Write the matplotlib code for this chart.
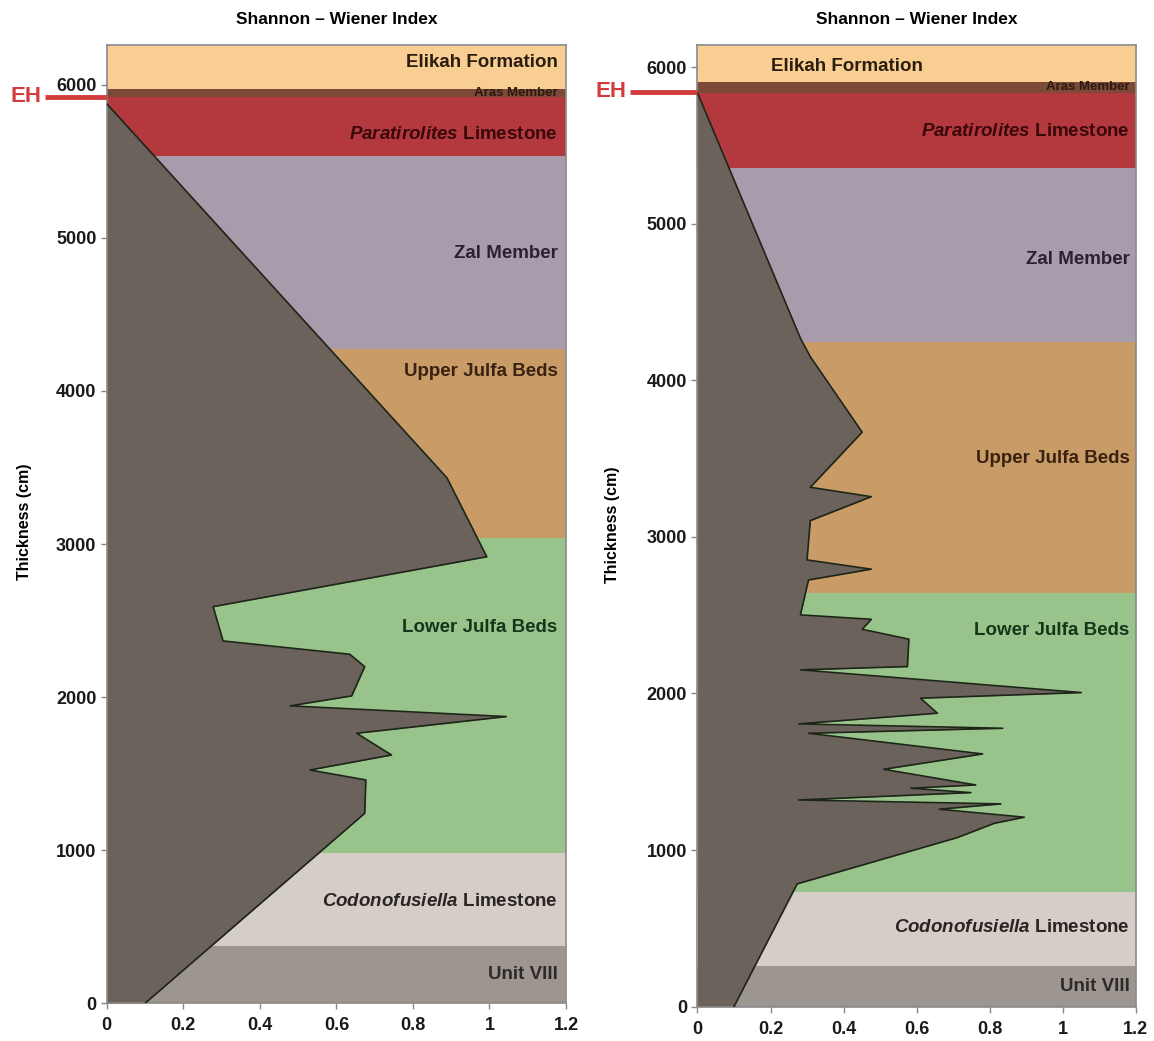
import numpy as np
import matplotlib.pyplot as plt
from matplotlib import transforms

plt.rcParams['font.family'] = ['Liberation Sans', 'DejaVu Sans']
plt.rcParams['font.weight'] = 'bold'
plt.rcParams['mathtext.fontset'] = 'custom'
plt.rcParams['mathtext.it'] = 'Liberation Sans:italic:bold'
plt.rcParams['mathtext.rm'] = 'Liberation Sans:bold'

# stratigraphic units, bottom to top
units = ["Unit VIII", r"$\mathit{Codonofusiella}$ Limestone", "Lower Julfa Beds",
         "Upper Julfa Beds", "Zal Member", r"$\mathit{Paratirolites}$ Limestone",
         "Aras Member", "Elikah Formation"]
unit_colors = ["#9d9690", "#d4cdc8", "#98c48b", "#c99b67", "#a89bab", "#b3393f",
               "#7d4a38", "#f8ce92"]
text_colors = ["#2e2a28", "#2a2522", "#17351a", "#3a2210", "#2a2230", "#3a0808",
               "#2a1a10", "#2b1e10"]

# unit boundaries (cm)
left_bounds = [0, 375, 980, 3041, 4275, 5532, 5922, 5972, 6260]
right_bounds = [0, 260, 734, 2644, 4247, 5355, 5836, 5904, 6142]

# Shannon - Wiener index vs thickness
left_h = [0.0, 0.889, 0.993, 0.278, 0.304, 0.635, 0.674, 0.640, 0.479, 1.044,
          0.653, 0.744, 0.531, 0.677, 0.674, 0.10]
left_t = [5876, 3432, 2917, 2591, 2367, 2280, 2199, 2008, 1943, 1873,
          1764, 1622, 1524, 1459, 1241, 0]

right_h = [0.0, 0.282, 0.309, 0.451, 0.309, 0.476, 0.309, 0.300, 0.476, 0.304,
           0.282, 0.476, 0.451, 0.579, 0.575, 0.282, 1.051, 0.611, 0.657, 0.277,
           0.836, 0.304, 0.781, 0.510, 0.762, 0.584, 0.749, 0.277, 0.831, 0.662,
           0.895, 0.813, 0.712, 0.273, 0.10]
right_t = [5836, 4269, 4151, 3669, 3317, 3257, 3104, 2853, 2794, 2725,
           2502, 2474, 2410, 2347, 2172, 2151, 2006, 1970, 1874, 1806,
           1778, 1746, 1614, 1516, 1416, 1395, 1367, 1320, 1295, 1261,
           1210, 1171, 1080, 784, 0]

eh_left = 5922
eh_right = 5844

# label placement (x, y, ha) for each unit
left_labels = [(1.178, 185, 'right'), (1.178, 662, 'right'), (1.178, 2452, 'right'),
               (1.178, 4125, 'right'), (1.178, 4895, 'right'), (1.178, 5674, 'right'),
               (1.178, 5945, 'right'), (1.178, 6144, 'right')]
right_labels = [(1.183, 126, 'right'), (1.183, 503, 'right'), (1.183, 2400, 'right'),
                (1.183, 3498, 'right'), (1.183, 4775, 'right'), (1.183, 5587, 'right'),
                (1.183, 5873, 'right'), (0.2, 6002, 'left')]


def draw_panel(ax, bounds, h, t, labels, eh, eh_x):
    for i in range(len(units)):
        ax.axhspan(bounds[i], bounds[i + 1], color=unit_colors[i], lw=0, zorder=0)
    ax.fill_betweenx(t, 0, h, color="#6b625c", lw=0, zorder=2)
    ax.plot(h, t, color="#1d2518", lw=1.2, zorder=3)
    for i, (x, y, ha) in enumerate(labels):
        fs = 9.5 if units[i] == "Aras Member" else 13.5
        ax.text(x, y, units[i], ha=ha, va='center', fontsize=fs,
                fontweight='bold', color=text_colors[i], zorder=4)

    ax.set_xlim(0, 1.2)
    ax.set_ylim(0, bounds[-1])
    ax.set_xticks([0, 0.2, 0.4, 0.6, 0.8, 1, 1.2])
    ax.set_xticklabels(['0', '0.2', '0.4', '0.6', '0.8', '1', '1.2'])
    ax.set_yticks(range(0, 7000, 1000))
    ax.tick_params(colors='#888888', labelcolor='#1a1a1a', labelsize=13,
                   length=4, width=1)
    ax.tick_params(axis='x', pad=6)
    for lab in ax.get_xticklabels() + ax.get_yticklabels():
        lab.set_fontweight('bold')
    for s in ax.spines.values():
        s.set_color('#8a8a8a')
        s.set_linewidth(1.2)

    trans = transforms.blended_transform_factory(ax.transAxes, ax.transData)
    ax.plot([eh_x, 0], [eh, eh], color="#d23c3c", lw=3.5, transform=trans,
            clip_on=False, solid_capstyle='butt', zorder=5)
    ax.text(eh_x - 0.008, eh, "EH", ha='right', va='center', fontsize=16,
            fontweight='bold', color="#d23c3c", transform=trans)


fig = plt.figure(figsize=(11.54, 10.41), dpi=100)
ax1 = fig.add_axes([0.0925, 0.0362, 0.398, 0.9206])
ax2 = fig.add_axes([0.6044, 0.0330, 0.3797, 0.9238])

draw_panel(ax1, left_bounds, left_h, left_t, left_labels, eh_left, -0.134)
draw_panel(ax2, right_bounds, right_h, right_t, right_labels, eh_right, -0.154)

fig.text(0.2915, 0.981, "Shannon \u2013 Wiener Index", ha='center', va='center',
         fontsize=12.5, fontweight='bold')
fig.text(0.7942, 0.981, "Shannon \u2013 Wiener Index", ha='center', va='center',
         fontsize=12.5, fontweight='bold')
fig.text(0.021, 0.4985, "Thickness (cm)", rotation=90, ha='center', va='center',
         fontsize=11.5, fontweight='bold')
fig.text(0.531, 0.496, "Thickness (cm)", rotation=90, ha='center', va='center',
         fontsize=11.5, fontweight='bold')

fig.savefig("out.png", dpi=100)
